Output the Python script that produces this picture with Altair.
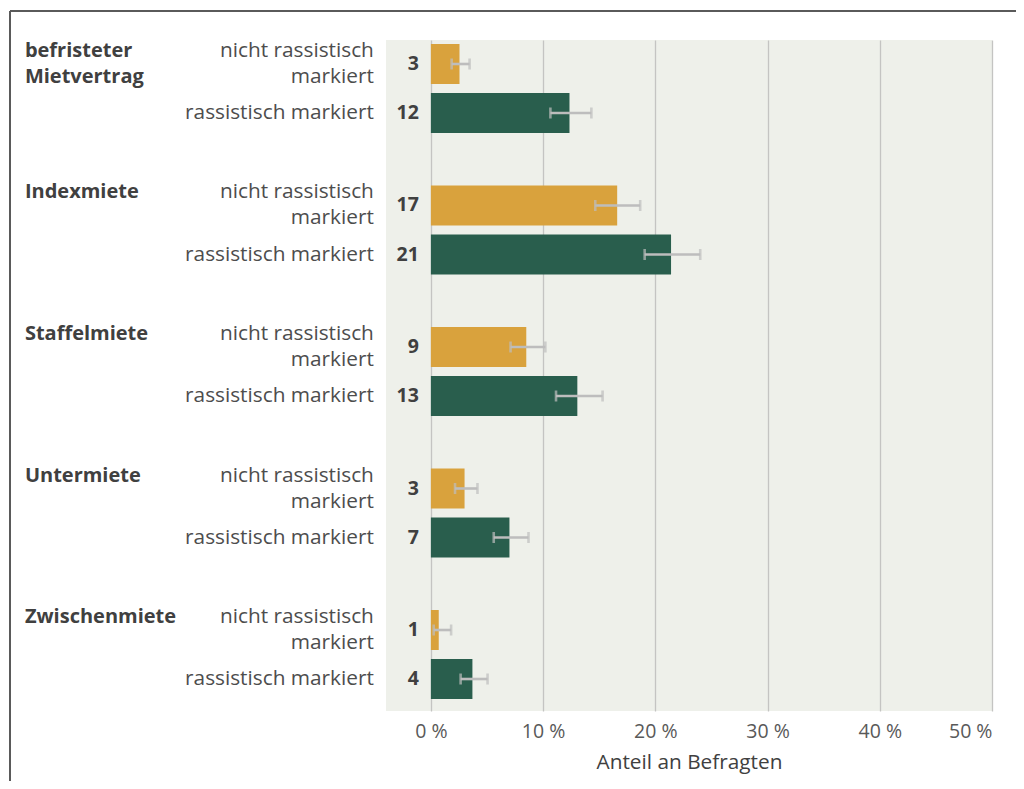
import altair as alt
import pandas as pd

groups = ["befristeter Mietvertrag", "Indexmiete", "Staffelmiete", "Untermiete", "Zwischenmiete"]
group_labels = ["befristeter\nMietvertrag", "Indexmiete", "Staffelmiete", "Untermiete", "Zwischenmiete"]
subgroups = ["nicht rassistisch markiert", "rassistisch markiert"]
subgroup_labels = ["nicht rassistisch\nmarkiert", "rassistisch markiert"]

val_nicht = [2.55, 16.6, 8.5, 3.0, 0.7]
val_rass = [12.35, 21.4, 13.05, 7.0, 3.7]
lo_nicht = [1.85, 14.65, 7.1, 2.15, 0.25]
hi_nicht = [3.45, 18.65, 10.2, 4.15, 1.8]
lo_rass = [10.65, 19.05, 11.15, 5.6, 2.65]
hi_rass = [14.3, 24.0, 15.3, 8.7, 5.05]
num_nicht = [3, 17, 9, 3, 1]
num_rass = [12, 21, 13, 7, 4]

x_ticks = [0, 10, 20, 30, 40, 50]

rows = []
for i, g in enumerate(groups):
    rows.append(dict(group=g, glabel=group_labels[i], sub=subgroups[0], slabel=subgroup_labels[0],
                     value=val_nicht[i], lo=lo_nicht[i], hi=hi_nicht[i], num=str(num_nicht[i]), zero=0))
    rows.append(dict(group=g, glabel="", sub=subgroups[1], slabel=subgroup_labels[1],
                     value=val_rass[i], lo=lo_rass[i], hi=hi_rass[i], num=str(num_rass[i]), zero=0))
df = pd.DataFrame(rows)

FONT = "Open Sans"
Y = alt.Y("group:N", sort=groups, axis=None,
          scale=alt.Scale(paddingInner=0.371, paddingOuter=0.0565, align=0.25))
YO = alt.YOffset("sub:N", sort=subgroups,
                 scale=alt.Scale(paddingInner=0.1837, paddingOuter=0))
XSCALE = alt.Scale(domain=[-4, 50], nice=False, zero=False)

base = alt.Chart(df)

bars = base.mark_bar().encode(
    x=alt.X("value:Q", scale=XSCALE,
            axis=alt.Axis(values=x_ticks, labelExpr="datum.value + ' %'", grid=True,
                          gridColor="#c4c4c2", gridWidth=1.3, domain=False, ticks=False,
                          labelPadding=11, labelFontSize=19.5, labelColor="#595959", labelFont=FONT,
                          title="Anteil an Befragten", titleFontSize=20.8, titleFontWeight="normal",
                          titleColor="#404040", titleFont=FONT, titlePadding=12)),
    x2=alt.X2("zero:Q"),
    y=Y, yOffset=YO,
    color=alt.Color("sub:N", sort=subgroups, legend=None,
                    scale=alt.Scale(domain=subgroups, range=["#D9A23D", "#295E4D"])),
)

err = base.mark_rule(color="#bdbdbd", strokeWidth=2.6).encode(
    x=alt.X("lo:Q", scale=XSCALE), x2="hi:Q", y=Y, yOffset=YO)
cap_lo = base.mark_tick(color="#bdbdbd", size=11, thickness=2.6, orient="vertical").encode(
    x=alt.X("lo:Q", scale=XSCALE), y=Y, yOffset=YO)
cap_hi = base.mark_tick(color="#bdbdbd", size=11, thickness=2.6, orient="vertical").encode(
    x=alt.X("hi:Q", scale=XSCALE), y=Y, yOffset=YO)

nums = base.mark_text(align="right", baseline="middle", dx=-12, font=FONT, fontSize=19.5,
                      fontWeight="bold", color="#404040").encode(
    x=alt.X("zero:Q", scale=XSCALE), y=Y, yOffset=YO, text="num:N")

sublab_two = base.transform_filter(alt.datum.sub == subgroups[0]).mark_text(
    align="right", baseline="middle", dx=-57, dy=-13, font=FONT, fontSize=20.8,
    lineHeight=26, lineBreak="\n", color="#4d4d4d").encode(
    x=alt.X("zero:Q", scale=XSCALE), y=Y, yOffset=YO, text="slabel:N")

sublab_one = base.transform_filter(alt.datum.sub == subgroups[1]).mark_text(
    align="right", baseline="middle", dx=-57, font=FONT, fontSize=20.8,
    color="#4d4d4d").encode(
    x=alt.X("zero:Q", scale=XSCALE), y=Y, yOffset=YO, text="slabel:N")

grplab = base.mark_text(align="left", baseline="alphabetic", dx=-406, dy=-7, font=FONT,
                        fontSize=20, fontWeight="bold", lineHeight=26, lineBreak="\n",
                        color="#404040").encode(
    x=alt.X("zero:Q", scale=XSCALE), y=Y, yOffset=YO, text="glabel:N")

frame_top = base.mark_rule(color="#5a5a5a", strokeWidth=2).encode(
    x=alt.value(-376), x2=alt.value(700), y=alt.value(-29))
frame_left = base.mark_rule(color="#5a5a5a", strokeWidth=2).encode(
    x=alt.value(-376), y=alt.value(-29), y2=alt.value(800))

chart = alt.layer(bars, err, cap_lo, cap_hi, nums, sublab_two, sublab_one, grplab,
                  frame_top, frame_left).properties(
    width=606, height=671,
    autosize=alt.AutoSizeParams(type="none"),
    padding={"left": 378, "top": 32, "right": 24, "bottom": 70},
).configure_view(fill="#EEF0EA", strokeWidth=0)

chart.save("out.html", embed_options={"renderer": "svg", "actions": False})
